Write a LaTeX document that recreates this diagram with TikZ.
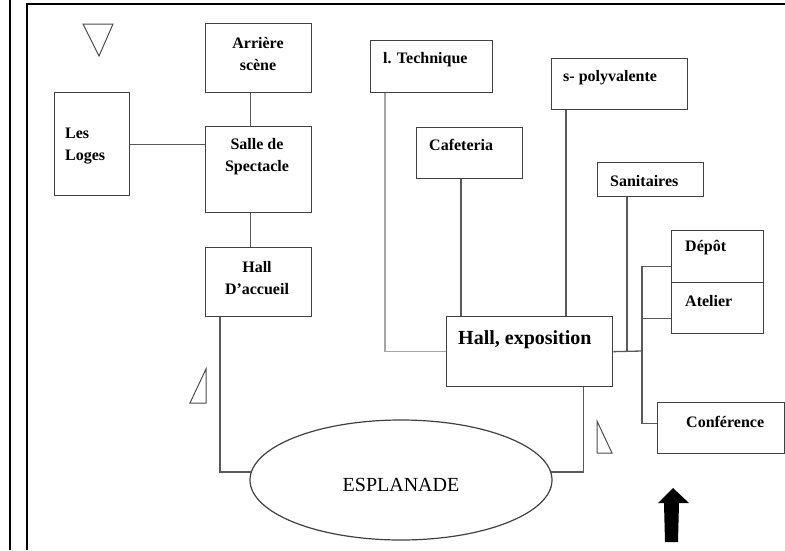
\documentclass[tikz,border=0pt]{standalone}
\usepackage{fontspec}
\setmainfont{Liberation Serif}
\usetikzlibrary{shapes.geometric,calc}
\begin{document}
\begin{tikzpicture}[x=1pt,y=-1pt,
  box/.style={draw=black!75,line width=1.3pt,rectangle,anchor=north west,inner sep=0pt},
  lbl/.style={font=\fontsize{16}{22}\selectfont\bfseries,inner sep=0pt,align=center},
  lbll/.style={font=\fontsize{16}{22}\selectfont\bfseries,inner sep=0pt,anchor=west,align=left},
  conn/.style={draw=black!65,line width=1.3pt},
  lightconn/.style={draw=black!35,line width=1.3pt},
  tri/.style={draw=black!70,line width=1pt,line join=miter},
  frame/.style={draw=black,line width=2pt}]
\useasboundingbox (0,0) rectangle (785,550);
% frame
\draw[frame] (10,0) -- (10,550);
\draw[frame] (27,550) -- (27,4) -- (785,4);
% boxes
\node[box,minimum width=106pt,minimum height=69pt] (ar) at (205,23) {};
\node[box,minimum width=75pt,minimum height=103pt] (loges) at (54,92) {};
\node[box,minimum width=106pt,minimum height=86pt] (salle) at (205,126) {};
\node[box,minimum width=106pt,minimum height=69pt] (hacc) at (205,247) {};
\node[box,minimum width=122pt,minimum height=52pt] (tech) at (370,40) {};
\node[box,minimum width=106pt,minimum height=51pt] (caf) at (416,127) {};
\node[box,minimum width=136pt,minimum height=51pt] (poly) at (551,58) {};
\node[box,minimum width=106pt,minimum height=34pt] (san) at (597,162) {};
\node[box,minimum width=92pt,minimum height=52pt] (dep) at (671,230) {};
\node[box,minimum width=92pt,minimum height=51pt] (ate) at (671,282) {};
\node[box,minimum width=127pt,minimum height=51pt] (conf) at (657,402) {};
\node[box,minimum width=166pt,minimum height=70pt] (hexp) at (446,316) {};
\node[draw=black!75,line width=1.2pt,ellipse,minimum width=302pt,minimum height=120pt,inner sep=0pt] (esp) at (401,480) {};
% labels
\node[lbl] (tar) at (258,54) {Arrière\\scène};
\node[lbll] (tlo) at (65,146) {Les\\Loges};
\node[lbl] (tsa) at (257,157) {Salle de\\Spectacle};
\node[lbl] (tha) at (257,278) {Hall\\D’accueil};
\node[lbll] (tte) at (383,60) {l. Technique};
\node[lbll] (tca) at (429,145) {Cafeteria};
\node[lbll] (tpo) at (563,78) {s- polyvalente};
\node[lbll] (tsn) at (610,181) {Sanitaires};
\node[lbll] (tde) at (685,248) {Dépôt};
\node[lbll] (tat) at (685,301) {Atelier};
\node[lbll] (tco) at (686,422) {Conférence};
\node[font=\fontsize{20}{24}\selectfont\bfseries,inner sep=0pt,anchor=west] (thx) at (458,340) {Hall, exposition};
\node[font=\fontsize{20}{24}\selectfont,inner sep=0pt] (tes) at (401,485) {ESPLANADE};
% connectors left
\draw[conn] (loges.east) -- (loges.east -| salle.west);
\coordinate (a1) at ([xshift=-8pt]ar.south);
\draw[conn] (a1) -- (a1 |- salle.north);
\coordinate (a2) at ([xshift=-8pt]salle.south);
\draw[conn] (a2) -- (a2 |- hacc.north);
\coordinate (a3) at ([xshift=15pt]hacc.south west);
\draw[conn] (a3) |- (esp.177);
\coordinate (a4) at ([xshift=-30pt]hexp.south east);
\draw[conn] (esp.3) -| (a4);
% connectors right
\coordinate (b1) at ([xshift=15pt]tech.south west);
\draw[lightconn] (b1) |- (hexp.west);
\coordinate (b2) at ([xshift=45pt]caf.south west);
\draw[conn] (b2) -- (b2 |- hexp.north);
\coordinate (b3) at ([xshift=15pt]poly.south west);
\draw[conn] (b3) -- (b3 |- hexp.north);
\coordinate (b4) at ([xshift=30pt]san.south west);
\draw[conn] (b4) -- (b4 |- hexp.east);
\coordinate (bus) at (642,351);
\draw[conn] (hexp.east) -- (bus);
\coordinate (dj) at ([yshift=-10pt]dep.west);
\coordinate (aj) at ([yshift=-10pt]ate.west);
\coordinate (cj) at ([yshift=5pt]conf.west);
\draw[conn] (dj) -| (bus) |- (cj);
\draw[conn] (aj) -- (aj -| bus);
% triangles
\draw[tri] (83,24) -- (113,24) -- (99,56) -- cycle;
\draw[tri] (190,403) -- (206,369) -- (206,403) -- cycle;
\draw[tri] (597,421) -- (597,453) -- (612,453) -- cycle;
% north arrow
\fill[black] (673,488) -- (689,503) -- (679,503) -- (678,542) -- (665,542) -- (664,503) -- (658,503) -- cycle;
\end{tikzpicture}
\end{document}
